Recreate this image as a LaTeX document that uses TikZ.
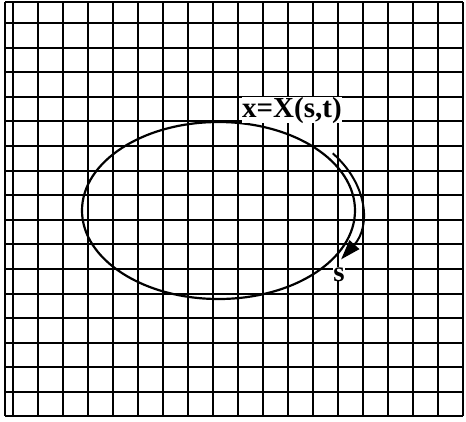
\documentclass[tikz,border=0pt]{standalone}
\usepackage{fontspec}
\setmainfont{Liberation Serif}
\usetikzlibrary{arrows.meta}
\begin{document}
\begin{tikzpicture}[x=1pt,y=-1pt,
  gridline/.style={line width=1.3pt, black},
  curve/.style={line width=2.2pt, black},
  motion/.style={line width=2pt, black, -{Triangle[length=20pt,width=13pt]}},
  lbl/.style={font=\bfseries\fontsize{29}{29}\selectfont, fill=white, inner sep=0pt}]
\useasboundingbox (0,0) rectangle (466,421);
% grid
\foreach \gx in {5,13,38,63,88,113,138,163,188,213,238,263,288,313,338,363,388,413,438,463}
  \draw[gridline] (\gx,2) -- (\gx,416);
\foreach \gy in {2,23,48,72,97,121,146,171,195,220,244,269,294,318,343,367,392,416}
  \draw[gridline] (5,\gy) -- (463,\gy);
% closed curve
\draw[curve] (218.5,210.5) ellipse [x radius=136.5pt, y radius=88.5pt];
% labels
\node[lbl, anchor=base west] (eq) at (242,117) {x=X(s,t)};
\node[lbl, anchor=base] (s) at (339,281) {s};
% direction of s
\coordinate (ms) at (332.7,153.3);
\draw[motion] (ms) arc[start angle=37, end angle=-31, x radius=143pt, y radius=95pt];
\end{tikzpicture}
\end{document}
